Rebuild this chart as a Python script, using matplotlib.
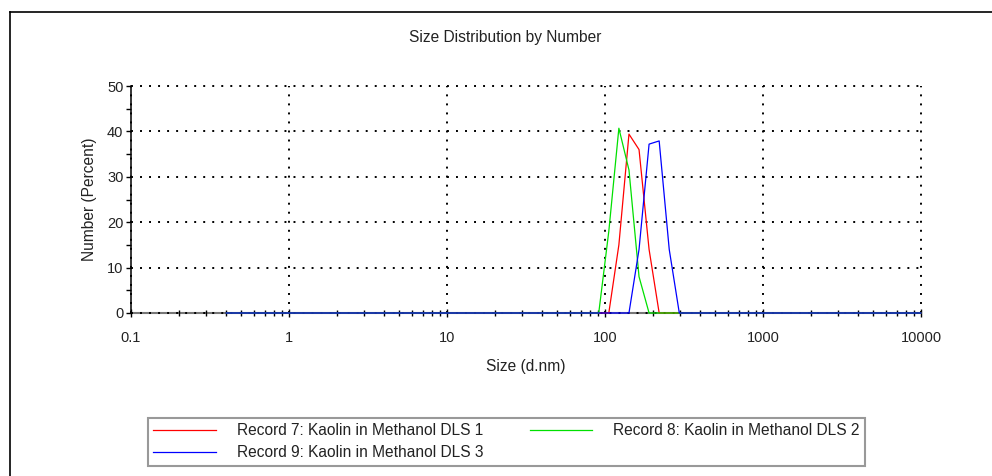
"""Size distribution by number (DLS, Kaolin in Methanol) - three records."""

import matplotlib

matplotlib.use("Agg")
import matplotlib.pyplot as plt  # noqa: E402
from matplotlib.lines import Line2D  # noqa: E402
from matplotlib.ticker import FixedLocator, LogLocator, NullFormatter  # noqa: E402

plt.rcParams["font.family"] = ["Liberation Sans", "DejaVu Sans"]
plt.rcParams["lines.scale_dashes"] = False

# size classes (d.nm) where the curves change; flat at 0 elsewhere
SIZES = [0.4, 91.28, 105.7, 122.4, 141.8, 164.2, 190.1, 220.2, 255.0, 295.3, 10000]
RECORD_7 = [0, 0, 0, 15.0, 39.4, 36.0, 14.0, 0, 0, 0, 0]
RECORD_8 = [0, 0, 18.0, 40.7, 31.5, 8.0, 0, 0, 0, 0, 0]
RECORD_9 = [0, 0, 0, 0, 0, 14.0, 37.2, 37.9, 14.0, 0, 0]

LABELS = [
    "Record 7: Kaolin in Methanol DLS 1",
    "Record 8: Kaolin in Methanol DLS 2",
    "Record 9: Kaolin in Methanol DLS 3",
]
X_TICKS = [0.1, 1, 10, 100, 1000, 10000]
X_TICK_LABELS = ["0.1", "1", "10", "100", "1000", "10000"]
Y_TICKS = [0, 10, 20, 30, 40, 50]

W, H = 992, 476
fig = plt.figure(figsize=(W / 100, H / 100), dpi=100)
ax = fig.add_axes([131 / W, 1 - 313 / H, 790 / W, 227 / H])

l7, = ax.plot(SIZES, RECORD_7, color="#ff0000", lw=0.9, label=LABELS[0])
l8, = ax.plot(SIZES, RECORD_8, color="#00e000", lw=0.9, label=LABELS[1])
l9, = ax.plot(SIZES, RECORD_9, color="#0000ff", lw=0.9, label=LABELS[2])
for ln in (l7, l8, l9):
    ln.set_clip_on(False)

ax.set_xscale("log")
ax.set_xlim(0.1, 10000)
ax.set_ylim(0, 50)
ax.set_xticks(X_TICKS)
ax.set_xticklabels(X_TICK_LABELS)
ax.xaxis.set_minor_locator(LogLocator(base=10, subs=range(2, 10)))
ax.xaxis.set_minor_formatter(NullFormatter())
ax.set_yticks(Y_TICKS)
ax.yaxis.set_minor_locator(FixedLocator([5, 15, 25, 35, 45]))

ax.grid(True, which="major", color="black", linestyle=(0, (1.4, 5.1)), linewidth=1.4)
for gl in ax.get_xgridlines() + ax.get_ygridlines():
    gl.set_clip_on(False)

for side in ("top", "right"):
    ax.spines[side].set_visible(False)
ax.spines["left"].set_color("black")
ax.spines["left"].set_linewidth(1.1)
ax.spines["bottom"].set_color("#777777")
ax.spines["bottom"].set_linewidth(1.5)
ax.spines["bottom"].set_zorder(0.5)

ax.tick_params(axis="x", which="major", direction="inout", length=6, width=1,
               color="black", pad=10, labelsize=10.5, labelcolor="#222222")
ax.tick_params(axis="x", which="minor", direction="inout", length=4, width=1,
               color="black")
ax.tick_params(axis="y", which="major", direction="out", length=3.5, width=1,
               color="black", pad=2, labelsize=10.5, labelcolor="#222222")
ax.tick_params(axis="y", which="minor", direction="out", length=3.5, width=1,
               color="black")

ax.set_xlabel("Size (d.nm)", fontsize=11.2, color="#222222", labelpad=10)
ax.set_ylabel("Number (Percent)", fontsize=11.2, color="#222222", labelpad=7)

fig.text(505 / W, 1 - 38 / H, "Size Distribution by Number", ha="center", va="center",
         fontsize=11.2, color="#222222")

# legend: column-major fill, so 7 and 9 share the first column
leg = fig.legend([l7, l9, l8], [LABELS[0], LABELS[2], LABELS[1]], ncol=2,
                 loc="upper left", bbox_to_anchor=(148 / W, 1 - 465 / H, 717 / W, 47 / H),
                 mode="expand", fontsize=11.2, handlelength=4.0, handletextpad=1.35,
                 columnspacing=2.7, borderpad=0.35, labelspacing=0.43, borderaxespad=0,
                 fancybox=False, frameon=True)
leg.get_frame().set_edgecolor("#808080")
leg.get_frame().set_linewidth(1.5)
for t in leg.get_texts():
    t.set_color("#222222")

# outer frame of the report panel (left and top edges visible)
fig.add_artist(Line2D([9.5 / W, 9.5 / W], [0, 1 - 11.7 / H], color="black", lw=1.2,
                      transform=fig.transFigure))
fig.add_artist(Line2D([9.5 / W, 1], [1 - 11.7 / H, 1 - 11.7 / H], color="black", lw=1.2,
                      transform=fig.transFigure))

fig.savefig("out.png", dpi=100)
